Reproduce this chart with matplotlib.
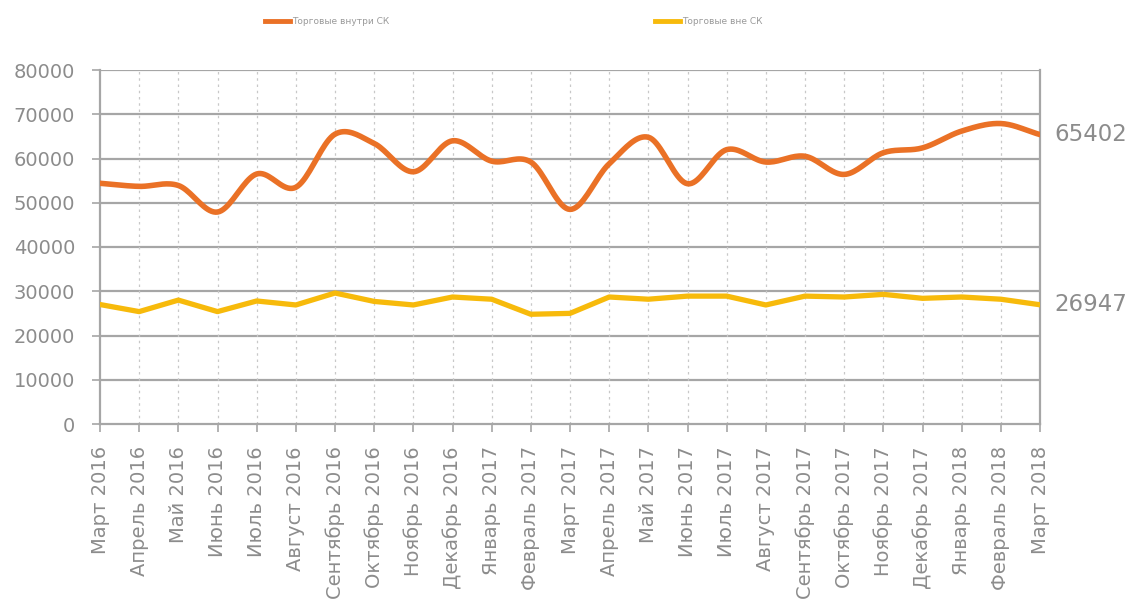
import numpy as np
import matplotlib.pyplot as plt
from matplotlib.lines import Line2D

plt.rcParams['font.family'] = ['DejaVu Sans']

months = ["Март 2016", "Апрель 2016", "Май 2016", "Июнь 2016", "Июль 2016",
          "Август 2016", "Сентябрь 2016", "Октябрь 2016", "Ноябрь 2016",
          "Декабрь 2016", "Январь 2017", "Февраль 2017", "Март 2017",
          "Апрель 2017", "Май 2017", "Июнь 2017", "Июль 2017", "Август 2017",
          "Сентябрь 2017", "Октябрь 2017", "Ноябрь 2017", "Декабрь 2017",
          "Январь 2018", "Февраль 2018", "Март 2018"]

inside = [54400, 53700, 53900, 47900, 56500, 53500, 65500, 63400, 57000,
          64000, 59400, 59200, 48500, 58800, 64800, 54300, 62000, 59200,
          60500, 56400, 61300, 62400, 66200, 67900, 65402]

outside = [27000, 25400, 28000, 25400, 27800, 26900, 29600, 27700, 26900,
           28700, 28200, 24800, 25000, 28700, 28200, 28900, 28900, 26900,
           28900, 28700, 29300, 28400, 28700, 28200, 26947]

series_names = ["Торговые внутри СК", "Торговые вне СК"]
colors = ["#EA7126", "#F7BA0B"]
yticks = list(range(0, 80001, 10000))


def smooth(y, n=20):
    """Catmull-Rom spline through the points (smoothed line)."""
    y = np.asarray(y, dtype=float)
    x = np.arange(len(y), dtype=float)
    px = np.concatenate([[2 * x[0] - x[1]], x, [2 * x[-1] - x[-2]]])
    py = np.concatenate([[2 * y[0] - y[1]], y, [2 * y[-1] - y[-2]]])
    xs, ys = [], []
    t = np.linspace(0, 1, n, endpoint=False)
    for i in range(1, len(px) - 2):
        p0, p1, p2, p3 = py[i - 1], py[i], py[i + 1], py[i + 2]
        q0, q1, q2, q3 = px[i - 1], px[i], px[i + 1], px[i + 2]
        f = lambda a0, a1, a2, a3: 0.5 * ((2 * a1) + (-a0 + a2) * t +
                                          (2 * a0 - 5 * a1 + 4 * a2 - a3) * t ** 2 +
                                          (-a0 + 3 * a1 - 3 * a2 + a3) * t ** 3)
        xs.append(f(q0, q1, q2, q3))
        ys.append(f(p0, p1, p2, p3))
    xs.append([x[-1]])
    ys.append([y[-1]])
    return np.concatenate(xs), np.concatenate(ys)


fig = plt.figure(figsize=(11.29, 6.03), dpi=100)
ax = fig.add_axes([100 / 1129, 1 - 424 / 603, 940 / 1129, 354 / 603])

x = np.arange(len(months))
sx, sy = smooth(inside)
ax.plot(sx, sy, color=colors[0], lw=4.0, solid_capstyle='round', zorder=3)
ax.plot(x, outside, color=colors[1], lw=3.8, solid_joinstyle='round',
        solid_capstyle='round', zorder=3)

ax.set_xlim(0, len(months) - 1)
ax.set_ylim(0, 80000)
ax.set_yticks(yticks)
ax.set_yticklabels([str(v) for v in yticks])
ax.set_xticks(x)
ax.set_xticklabels(months, rotation=90)

grey = "#8C8C8C"
for v in yticks[1:]:
    ax.axhline(v, color="#A6A6A6", lw=1.6, zorder=1)
for i in x[1:-1]:
    ax.axvline(i, color="#C8C8C8", lw=0.9, ls=(0, (2, 3)), zorder=1)

ax.spines["top"].set_visible(False)
for side in ["left", "right", "bottom"]:
    ax.spines[side].set_color("#A6A6A6")
    ax.spines[side].set_linewidth(1.6)

ax.tick_params(axis='both', colors="#A6A6A6", labelcolor=grey,
               labelsize=14, length=6, width=1.2, direction='out')
ax.tick_params(axis='y', pad=12)
ax.tick_params(axis='x', pad=10)

# end-of-series value labels
for vals in (inside, outside):
    ax.annotate(f"{vals[-1]}", xy=(x[-1], vals[-1]), xytext=(10, 0),
                textcoords='offset points', va='center', ha='left',
                fontsize=16.5, color=grey, annotation_clip=False)

# legend along the top
leg_x = [265 / 1129, 655 / 1129]
for hx, name, c in zip(leg_x, series_names, colors):
    fig.add_artist(Line2D([hx, hx + 25 / 1129], [1 - 21 / 603] * 2,
                          color=c, lw=3.5, transform=fig.transFigure))
    fig.text(hx + 27 / 1129, 1 - 21 / 603, name, fontsize=6.5, color="#9A9A9A",
             va='center', ha='left')

fig.savefig("out.png", dpi=100, facecolor="white")
